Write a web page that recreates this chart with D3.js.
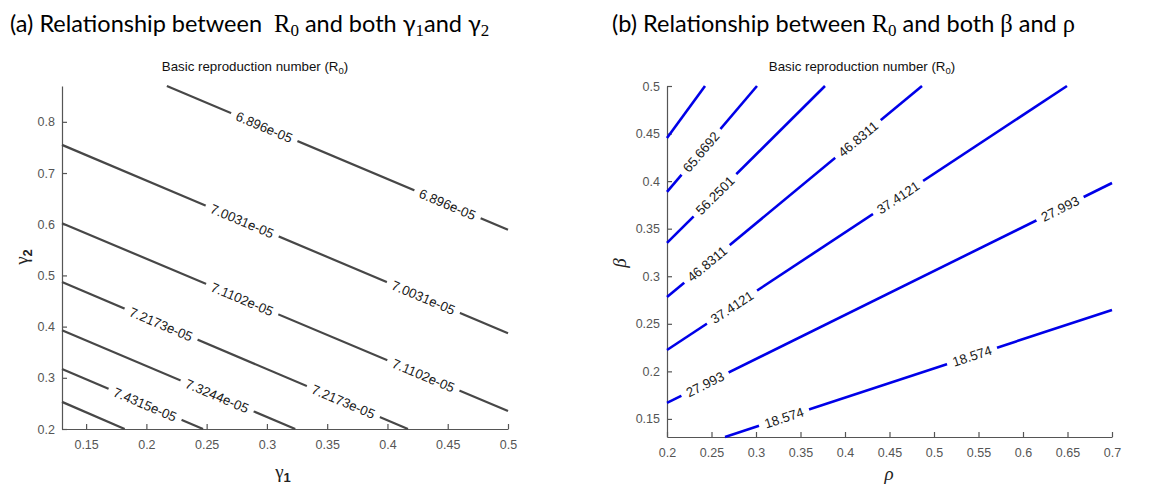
<!DOCTYPE html>
<html><head><meta charset="utf-8">
<script src="https://cdn.jsdelivr.net/npm/d3@7"></script>
<style>body{margin:0;background:#fff} svg{display:block}</style>
</head><body>
<svg id="c" width="1149" height="487"></svg>
<script>
// ---------- data: panel (a) ----------
const leftLevels = ["6.896e-05","7.0031e-05","7.1102e-05","7.2173e-05","7.3244e-05","7.4315e-05","7.5386e-05"];
const leftStart = [[0.217,0.87],[0.13,0.755],[0.13,0.602],[0.13,0.487],[0.13,0.393],[0.13,0.317],[0.13,0.253]];
const leftEnd   = [[0.5,0.589],[0.5,0.387],[0.5,0.235],[0.417,0.2],[0.3235,0.2],[0.247,0.2],[0.182,0.2]];
const leftLabelAt = [[0.2978,0.4498],[0.2795,0.4298],[0.2795,0.4298],[0.2122,0.3634],[0.2587],[0.1989],[]];
const leftXTicks = [0.15,0.2,0.25,0.3,0.35,0.4,0.45,0.5];
const leftYTicks = [0.2,0.3,0.4,0.5,0.6,0.7,0.8];
const leftXDomain = [0.13,0.5];
const leftYDomain = [0.2,0.87];

// ---------- data: panel (b) ----------
const rightLevels = ["75.0882","65.6692","56.2501","46.8311","37.4121","27.993","18.574"];
const rightStart = [[0.2,0.4453],[0.2,0.3886],[0.2,0.335],[0.2,0.2782],[0.2,0.2225],[0.2,0.1668],[0.2652,0.131]];
const rightEnd   = [[0.2427,0.5],[0.3011,0.5],[0.3775,0.5],[0.4865,0.5],[0.6494,0.5],[0.7,0.398],[0.7,0.2646]];
const rightLabelAt = [[],[0.2382],[0.2539],[0.2449,0.4146],[0.273,0.4596],[0.2427,0.6416],[0.3315,0.5427]];
const rightXTicks = [0.2,0.25,0.3,0.35,0.4,0.45,0.5,0.55,0.6,0.65,0.7];
const rightYTicks = [0.15,0.2,0.25,0.3,0.35,0.4,0.45,0.5];
const rightXDomain = [0.2,0.7];
const rightYDomain = [0.131,0.5];

const svg = d3.select("#c");
const sans = "'Liberation Sans', Arial, sans-serif";
const headFont = "Lato, 'Open Sans', sans-serif";
const serif = "'Liberation Serif', 'DejaVu Serif', serif";

function fmt(d){ return String(+d.toFixed(2)); }

function panel(cfg){
  const x = d3.scaleLinear().domain(cfg.xDomain).range(cfg.xRange);
  const y = d3.scaleLinear().domain(cfg.yDomain).range(cfg.yRange);
  const g = svg.append("g");

  const xa = g.append("g").attr("transform",`translate(0,${cfg.yRange[0]})`)
    .call(d3.axisBottom(x).tickValues(cfg.xTicks).tickFormat(fmt).tickSizeInner(-5).tickSizeOuter(0).tickPadding(11));
  const ya = g.append("g").attr("transform",`translate(${cfg.xRange[0]},0)`)
    .call(d3.axisLeft(y).tickValues(cfg.yTicks).tickFormat(fmt).tickSizeInner(-5).tickSizeOuter(0).tickPadding(7));
  [xa,ya].forEach(a=>{
    a.select(".domain").attr("stroke","#555").attr("stroke-width",1.2);
    a.selectAll(".tick line").attr("stroke","#555").attr("stroke-width",1.2);
    a.selectAll(".tick text").attr("fill","#555").style("font-family",sans).style("font-size","12.5px");
  });

  // contour lines
  cfg.starts.forEach((s,i)=>{
    const e = cfg.ends[i];
    const x1=x(s[0]), y1=y(s[1]), x2=x(e[0]), y2=y(e[1]);
    g.append("line").attr("x1",x1).attr("y1",y1).attr("x2",x2).attr("y2",y2)
      .attr("stroke",cfg.color).attr("stroke-width",cfg.lw).attr("stroke-linecap","butt");
    const ang = Math.atan2(y2-y1,x2-x1)*180/Math.PI;
    cfg.labelAt[i].forEach(lx=>{
      const t = (x(lx)-x1)/(x2-x1);
      const px = x1+t*(x2-x1), py = y1+t*(y2-y1);
      const lg = g.append("g").attr("transform",`translate(${px},${py}) rotate(${ang})`);
      const rect = lg.append("rect");
      const tx = lg.append("text").attr("text-anchor","middle").attr("dy","0.36em")
        .style("font-family",sans).style("font-size","13.3px").attr("fill","#1a1a1a")
        .text(cfg.levels[i]);
      const len = tx.node().getComputedTextLength();
      rect.attr("x",-len/2-6).attr("y",-5).attr("width",len+12).attr("height",10).attr("fill","#fff");
    });
  });

  // title
  const cx = cfg.titleX;
  const tt = g.append("text").attr("x",cx).attr("y",71).attr("text-anchor","middle")
    .style("font-family",sans).style("font-size","13.3px").attr("fill","#111");
  tt.append("tspan").text("Basic reproduction number (R");
  tt.append("tspan").attr("dy",3).style("font-size","9.5px").text("0");
  tt.append("tspan").attr("dy",-3).text(")");
  return {x,y,g};
}

const L = panel({xDomain:leftXDomain,yDomain:leftYDomain,xRange:[62,508],yRange:[429,86],
  xTicks:leftXTicks,yTicks:leftYTicks,starts:leftStart,ends:leftEnd,labelAt:leftLabelAt,
  levels:leftLevels,color:"#474747",lw:2.2,titleX:255});
const R = panel({xDomain:rightXDomain,yDomain:rightYDomain,xRange:[667,1112],yRange:[437,86],
  xTicks:rightXTicks,yTicks:rightYTicks,starts:rightStart,ends:rightEnd,labelAt:rightLabelAt,
  levels:rightLevels,color:"#0000e8",lw:2.6,titleX:862});

// axis labels panel (a)
const gx = svg.append("text").attr("x",283).attr("y",478).attr("text-anchor","middle")
  .style("font-family",serif).style("font-size","19px").attr("fill","#222");
gx.append("tspan").text("γ");
gx.append("tspan").attr("dy",4).style("font-size","13px").style("font-weight","bold").style("font-family",sans).text("1");
const gy = svg.append("text").attr("transform","translate(28,257) rotate(-90)").attr("text-anchor","middle")
  .style("font-family",serif).style("font-size","19px").attr("fill","#222");
gy.append("tspan").text("γ");
gy.append("tspan").attr("dy",4).style("font-size","13px").style("font-weight","bold").style("font-family",sans).text("2");

// axis labels panel (b)
svg.append("text").attr("x",889).attr("y",480).attr("text-anchor","middle")
  .style("font-family",serif).style("font-style","italic").style("font-size","19px").attr("fill","#222").text("ρ");
svg.append("text").attr("transform","translate(626,263) rotate(-90)").attr("text-anchor","middle")
  .style("font-family",serif).style("font-style","italic").style("font-size","19px").attr("fill","#222").text("β");

// headings
function heading(x, parts){
  const t = svg.append("text").attr("x",x).attr("y",32).style("font-size","23.5px").attr("fill","#000")
    .style("font-family",headFont).attr("xml:space","preserve");
  parts.forEach(p=>{
    const s = t.append("tspan").text(p.t);
    if(p.serif) s.style("font-family",serif).style("font-size","24.5px");
    if(p.sub){ s.attr("dy",4).style("font-size","17px"); }
    if(p.up){ s.attr("dy",-4); }
  });
}
heading(10,[{t:"(a) Relationship between  "},{t:"R",serif:1},{t:"0",serif:1,sub:1},{t:" and both γ",up:1},{t:"1",sub:1,serif:1},{t:"and γ",up:1},{t:"2",sub:1,serif:1}]);
heading(612,[{t:"(b) Relationship between "},{t:"R",serif:1},{t:"0",serif:1,sub:1},{t:" and both ",up:1},{t:"β",serif:1},{t:" and "},{t:"ρ",serif:1}]);
</script>
</body></html>
